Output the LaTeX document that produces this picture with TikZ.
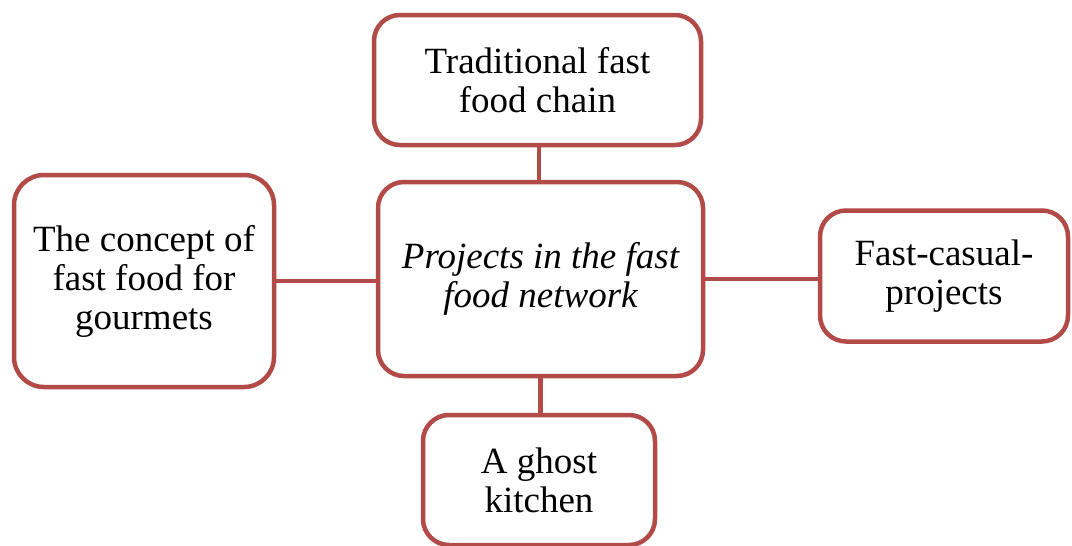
\documentclass[tikz,border=0pt]{standalone}
\usepackage{fontspec}
\setmainfont{Liberation Serif}
\definecolor{boxred}{RGB}{178,74,72}
\begin{document}
\begin{tikzpicture}[x=1pt,y=-1pt,
  box/.style={draw=boxred, line width=4.5pt, rounded corners=26pt, fill=white,
    inner sep=0pt, align=center, font=\fontsize{37}{39}\selectfont},
  link/.style={draw=boxred, line width=4.5pt}]
\useasboundingbox (0,0) rectangle (1072,546);
\node[box, minimum width=327pt, minimum height=130pt] (top) at (537.5,80) {Traditional fast\\food chain};
\node[box, minimum width=325pt, minimum height=194pt, font=\fontsize{37}{39}\selectfont\itshape] (center) at (540.5,279) {Projects in the fast\\food network};
\node[box, minimum width=260pt, minimum height=212pt, rounded corners=30pt] (left) at (144,281) {The concept of\\fast food for\\gourmets};
\node[box, minimum width=248pt, minimum height=131pt] (right) at (944,276) {Fast-casual-\\projects};
\node[box, minimum width=232pt, minimum height=130pt] (bottom) at (539,480) {A ghost\\kitchen};
\draw[link] (top.south -| 539,0) -- (center.north -| 539,0);
\draw[link] (left.east) -- (left.east -| center.west);
\draw[link] (center.east) -- (center.east -| right.west);
\draw[link] (center.south) -- (center.south |- bottom.north);
\end{tikzpicture}
\end{document}
